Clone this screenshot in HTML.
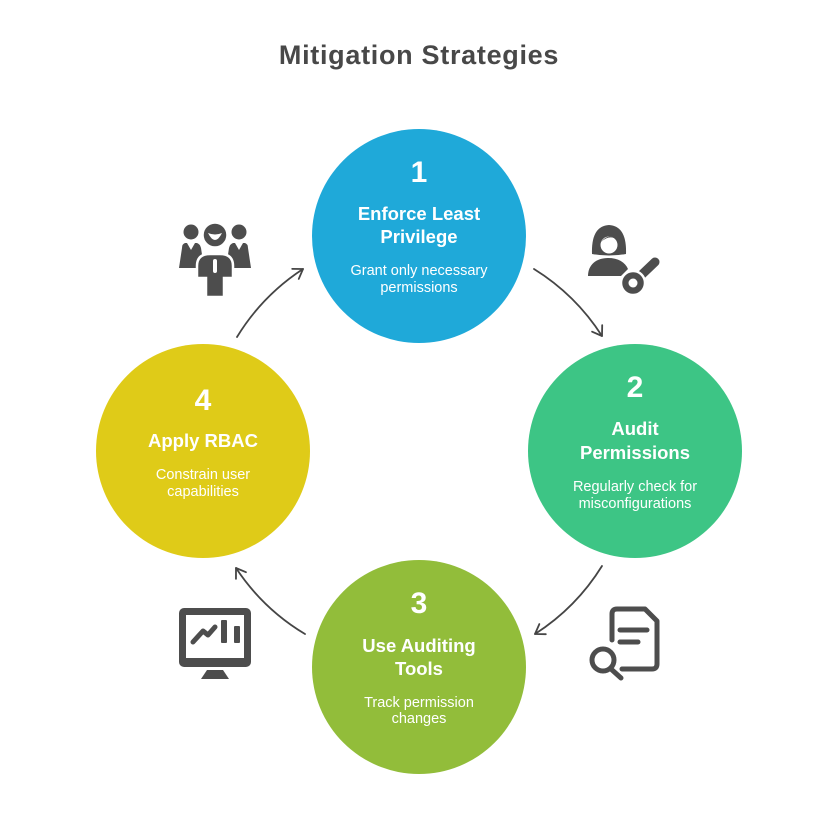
<!DOCTYPE html>
<html>
<head>
<meta charset="utf-8">
<style>
  html, body { margin: 0; padding: 0; background: #ffffff; }
  svg { display: block; }
  text { font-family: "Liberation Sans", "DejaVu Sans", sans-serif; }
</style>
</head>
<body>
<svg width="831" height="840" viewBox="0 0 831 840" xmlns="http://www.w3.org/2000/svg">
  <defs>
    <marker id="ah" markerUnits="userSpaceOnUse" markerWidth="20" markerHeight="20" refX="0" refY="0" viewBox="-12 -10 14 20" orient="auto">
      <path d="M -9 -6 L 0 0 L -9 6" fill="none" stroke="#454545" stroke-width="1.8" stroke-linecap="round" stroke-linejoin="round"/>
    </marker>
  </defs>

  <rect width="831" height="840" fill="#ffffff"/>

  <!-- Title -->
  <text x="419" y="64" text-anchor="middle" font-size="27" font-weight="bold" fill="#484848" letter-spacing="0.7">Mitigation Strategies</text>

  <!-- Arrows (arcs around center 419,452, r=216) -->
  <g fill="none" stroke="#454545" stroke-width="1.8" stroke-linecap="round">
    <path d="M 237 337 A 216 216 0 0 1 303 269" marker-end="url(#ah)"/>
    <path d="M 534 269 A 216 216 0 0 1 602 336" marker-end="url(#ah)"/>
    <path d="M 602 566 A 216 216 0 0 1 535 634" marker-end="url(#ah)"/>
    <path d="M 305 634 A 216 216 0 0 1 236 568" marker-end="url(#ah)"/>
  </g>

  <!-- Circles -->
  <circle cx="419" cy="236" r="107" fill="#1fa9d9"/>
  <circle cx="635" cy="451" r="107" fill="#3dc585"/>
  <circle cx="419" cy="667" r="107" fill="#92bd3a"/>
  <circle cx="203" cy="451" r="107" fill="#dfcb18"/>

  <!-- Circle 1 text -->
  <g fill="#ffffff" text-anchor="middle">
    <text x="419" y="182" font-size="30" font-weight="bold">1</text>
    <text x="419" y="220" font-size="18.5" font-weight="bold">Enforce Least</text>
    <text x="419" y="243" font-size="18.5" font-weight="bold">Privilege</text>
    <text x="419" y="275" font-size="14.5">Grant only necessary</text>
    <text x="419" y="292" font-size="14.5">permissions</text>
  </g>

  <!-- Circle 2 text -->
  <g fill="#ffffff" text-anchor="middle">
    <text x="635" y="397" font-size="30" font-weight="bold">2</text>
    <text x="635" y="435" font-size="18.5" font-weight="bold">Audit</text>
    <text x="635" y="459" font-size="18.5" font-weight="bold">Permissions</text>
    <text x="635" y="491" font-size="14.5">Regularly check for</text>
    <text x="635" y="508" font-size="14.5">misconfigurations</text>
  </g>

  <!-- Circle 3 text -->
  <g fill="#ffffff" text-anchor="middle">
    <text x="419" y="613" font-size="30" font-weight="bold">3</text>
    <text x="419" y="652" font-size="18.5" font-weight="bold">Use Auditing</text>
    <text x="419" y="675" font-size="18.5" font-weight="bold">Tools</text>
    <text x="419" y="707" font-size="14.5">Track permission</text>
    <text x="419" y="723" font-size="14.5">changes</text>
  </g>

  <!-- Circle 4 text -->
  <g fill="#ffffff" text-anchor="middle">
    <text x="203" y="410" font-size="30" font-weight="bold">4</text>
    <text x="203" y="447" font-size="18.5" font-weight="bold">Apply RBAC</text>
    <text x="203" y="479" font-size="14.5">Constrain user</text>
    <text x="203" y="496" font-size="14.5">capabilities</text>
  </g>

  <!-- Icon: people (top-left) -->
  <g fill="#4d4d4d">
    <circle cx="191" cy="232" r="7.5"/>
    <path d="M 185 243 L 197 243 Q 200 244 201 248 L 204 268 L 179 268 L 182 248 Q 182 244 185 243 Z"/>
    <path d="M 187 243 L 191 250 L 195 243 Z" fill="#ffffff"/>
    <circle cx="239" cy="232" r="7.5"/>
    <path d="M 233 243 L 245 243 Q 248 244 248 248 L 251 268 L 226 268 L 229 248 Q 230 244 233 243 Z"/>
    <path d="M 235 243 L 239 250 L 243 243 Z" fill="#ffffff"/>
    <circle cx="215" cy="235" r="12.5" stroke="#ffffff" stroke-width="2.5"/>
    <path d="M 208 233 Q 215 247 222 233 Q 215 236 208 233 Z" fill="#ffffff"/>
    <path d="M 197 278 L 197 266 Q 197 254 210 254 L 220 254 Q 233 254 233 266 L 233 278 L 224 278 L 224 297 L 206 297 L 206 278 Z" stroke="#ffffff" stroke-width="2.5"/>
    <rect x="213" y="259" width="4" height="14" rx="2" fill="#ffffff"/>
  </g>

  <!-- Icon: person with key (top-right) -->
  <g fill="#4d4d4d">
    <path d="M 592 254 Q 591 226 609 225 Q 627 226 626 254 Q 609 257 592 254 Z"/>
    <circle cx="609" cy="245" r="8.5" fill="#ffffff"/>
    <path d="M 601 242 Q 609 232 617 240 Q 610 234 601 242 Z"/>
    <path d="M 588 276 C 588 265 596 258 608 258 C 618 258 625 262 628 269 L 621 276 Z"/>
    <line x1="633" y1="283" x2="655" y2="262" stroke="#4d4d4d" stroke-width="9" stroke-linecap="round"/>
    <circle cx="633" cy="283" r="12" stroke="#ffffff" stroke-width="2.5"/>
    <circle cx="633" cy="283" r="4.5" fill="#ffffff"/>
  </g>

  <!-- Icon: document with magnifier (bottom-right) -->
  <g fill="none" stroke="#4d4d4d" stroke-width="5" stroke-linecap="round" stroke-linejoin="round">
    <path d="M 612 640 L 612 614 Q 612 609 617 609 L 645 609 L 657 621 L 657 664 Q 657 669 652 669 L 622 669"/>
    <line x1="620" y1="630" x2="647" y2="630"/>
    <line x1="620" y1="642" x2="638" y2="642"/>
    <circle cx="603" cy="660" r="11"/>
    <line x1="611" y1="669" x2="621" y2="678"/>
  </g>

  <!-- Icon: monitor (bottom-left) -->
  <g fill="#4d4d4d">
    <rect x="179" y="608" width="72" height="59" rx="5"/>
    <rect x="186" y="615" width="58" height="43" fill="#ffffff"/>
    <path d="M 207 670 L 223 670 L 229 679 L 201 679 Z"/>
    <polyline points="193,642 203,631 208,635 215,627" fill="none" stroke="#4d4d4d" stroke-width="5" stroke-linecap="round" stroke-linejoin="round"/>
    <rect x="221" y="620" width="6" height="23" rx="1"/>
    <rect x="234" y="626" width="6" height="17" rx="1"/>
  </g>
</svg>
</body>
</html>
